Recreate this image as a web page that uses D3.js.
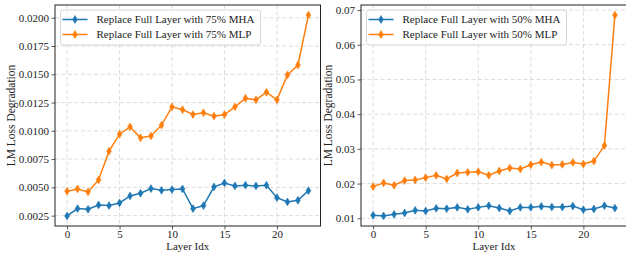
<!DOCTYPE html>
<html>
<head>
<meta charset="utf-8">
<script src="https://cdn.jsdelivr.net/npm/d3@7"></script>
<style>
  html, body { margin: 0; padding: 0; background: #fff; }
  svg { display: block; }
  text { font-family: "Liberation Serif", "DejaVu Serif", serif; fill: #222; }
</style>
</head>
<body>
<svg id="chart" width="626" height="254"></svg>
<script>
// ---- data ----
const layers = d3.range(24);
const mha75 = [0.00247, 0.00312, 0.00306, 0.00344, 0.00339, 0.00362, 0.00424, 0.00448,
               0.00489, 0.00474, 0.00480, 0.00486, 0.00312, 0.00339, 0.00504, 0.00539,
               0.00513, 0.00519, 0.00513, 0.00519, 0.00409, 0.00371, 0.00386, 0.00471];
const mlp75 = [0.00466, 0.00486, 0.00460, 0.00566, 0.00820, 0.00970, 0.01035, 0.00938,
               0.00955, 0.01050, 0.01212, 0.01187, 0.01144, 0.01159, 0.01130, 0.01144,
               0.01212, 0.01288, 0.01274, 0.01341, 0.01274, 0.01494, 0.01582, 0.02024];
const mha50 = [0.01086, 0.01067, 0.01114, 0.01152, 0.01229, 0.01210, 0.01286, 0.01276,
               0.01314, 0.01257, 0.01314, 0.01362, 0.01295, 0.01210, 0.01314, 0.01314,
               0.01343, 0.01324, 0.01324, 0.01352, 0.01248, 0.01267, 0.01362, 0.01295];
const mlp50 = [0.01914, 0.02019, 0.01952, 0.02086, 0.02105, 0.02171, 0.02238, 0.02133,
               0.02305, 0.02324, 0.02343, 0.02238, 0.02362, 0.02448, 0.02419, 0.02543,
               0.02619, 0.02533, 0.02552, 0.02610, 0.02562, 0.02648, 0.03095, 0.06856];
const xTicks = [0, 5, 10, 15, 20];
const yTicksLeft = [0.0025, 0.0050, 0.0075, 0.0100, 0.0125, 0.0150, 0.0175, 0.0200];
const yTicksRight = [0.01, 0.02, 0.03, 0.04, 0.05, 0.06, 0.07];
const labelsLeft = ["Replace Full Layer with 75% MHA", "Replace Full Layer with 75% MLP"];
const labelsRight = ["Replace Full Layer with 50% MHA", "Replace Full Layer with 50% MLP"];
const xLabel = "Layer Idx";
const yLabel = "LM Loss Degradation";
const colors = ["#1f77b4", "#ff7f0e"];

const FONT = '"Liberation Serif", "DejaVu Serif", serif';
const svg = d3.select("#chart");

function panel(opts) {
  const { left, right, top, bottom, series, labels, yTicks, yFmt, yLabelX, legendW } = opts;
  const g = svg.append("g");
  const xPad = (layers.length - 1) * 0.05;
  const x = d3.scaleLinear().domain([-xPad, layers.length - 1 + xPad]).range([left, right]);
  const all = series.flat();
  const lo = d3.min(all), hi = d3.max(all), pad = (hi - lo) * 0.05;
  const y = d3.scaleLinear().domain([lo - pad, hi + pad]).range([bottom, top]);

  const clipId = "clip" + left;
  svg.append("clipPath").attr("id", clipId).append("rect")
    .attr("x", left).attr("y", top).attr("width", right - left).attr("height", bottom - top);

  // grid
  const grid = g.append("g").attr("stroke", "#d4d4d4").attr("stroke-width", 0.8)
    .attr("stroke-dasharray", "4,2.5");
  grid.selectAll("line.gx").data(xTicks).join("line")
    .attr("x1", d => x(d)).attr("x2", d => x(d)).attr("y1", top).attr("y2", bottom);
  grid.selectAll("line.gy").data(yTicks).join("line")
    .attr("x1", left).attr("x2", right).attr("y1", d => y(d)).attr("y2", d => y(d));

  // axes
  const xAxis = d3.axisBottom(x).tickValues(xTicks).tickFormat(d3.format("d")).tickSizeInner(3.5).tickSizeOuter(0).tickPadding(0.5);
  const yAxis = d3.axisLeft(y).tickValues(yTicks).tickFormat(d3.format(yFmt)).tickSizeInner(3.5).tickSizeOuter(0).tickPadding(2.5);
  const gx = g.append("g").attr("transform", `translate(0,${bottom})`).call(xAxis);
  const gy = g.append("g").attr("transform", `translate(${left},0)`).call(yAxis);
  [gx, gy].forEach(a => {
    a.attr("font-family", FONT).attr("font-size", 11);
    a.select(".domain").remove();
    a.selectAll(".tick line").attr("stroke", "#333").attr("stroke-width", 0.8);
    a.selectAll(".tick text").attr("font-family", FONT).style("font-family", FONT)
      .style("font-size", "11px").attr("fill", "#222");
  });

  // lines + markers
  const plot = g.append("g").attr("clip-path", `url(#${clipId})`);
  const line = d3.line().x((d, i) => x(layers[i])).y(d => y(d));
  const diamond = "M0,-3.9L2.4,0L0,3.9L-2.4,0Z";
  series.forEach((s, k) => {
    plot.append("path").datum(s).attr("d", line).attr("fill", "none")
      .attr("stroke", colors[k]).attr("stroke-width", 1.5);
    plot.selectAll(null).data(s).join("path")
      .attr("d", diamond)
      .attr("transform", (d, i) => `translate(${x(layers[i])},${y(d)})`)
      .attr("fill", colors[k]).attr("stroke", colors[k]).attr("stroke-width", 0.6);
  });

  // spines
  g.append("rect").attr("x", left).attr("y", top).attr("width", right - left).attr("height", bottom - top)
    .attr("fill", "none").attr("stroke", "#222").attr("stroke-width", 1);

  // axis labels
  g.append("text").attr("x", (left + right) / 2).attr("y", 250)
    .attr("text-anchor", "middle").style("font-size", "11px").text(xLabel);
  g.append("text").attr("transform", `translate(${yLabelX},${(top + bottom) / 2}) rotate(-90)`)
    .attr("text-anchor", "middle").style("font-size", "11.5px").text(yLabel);

  // legend
  const lx = left + 5.5, ly = top + 5;
  const lg = g.append("g");
  lg.append("rect").attr("x", lx).attr("y", ly).attr("width", legendW).attr("height", 35)
    .attr("rx", 2.5).attr("fill", "#fff").attr("fill-opacity", 0.8)
    .attr("stroke", "#ccc").attr("stroke-width", 0.8);
  labels.forEach((lab, k) => {
    const yy = ly + 9.5 + k * 15;
    lg.append("line").attr("x1", lx + 2).attr("x2", lx + 27).attr("y1", yy).attr("y2", yy)
      .attr("stroke", colors[k]).attr("stroke-width", 1.5);
    lg.append("path").attr("d", diamond).attr("transform", `translate(${lx + 14.5},${yy})`)
      .attr("fill", colors[k]).attr("stroke", colors[k]).attr("stroke-width", 0.6);
    lg.append("text").attr("x", lx + 36).attr("y", yy).attr("dy", "0.35em")
      .style("font-size", "11px").text(lab);
  });
}

panel({ left: 55, right: 320.5, top: 5, bottom: 226, series: [mha75, mlp75], labels: labelsLeft,
        yTicks: yTicksLeft, yFmt: ".4f", yLabelX: 15, legendW: 200 });
panel({ left: 361, right: 627, top: 5, bottom: 226, series: [mha50, mlp50], labels: labelsRight,
        yTicks: yTicksRight, yFmt: ".2f", yLabelX: 332, legendW: 200 });
</script>
</body>
</html>
